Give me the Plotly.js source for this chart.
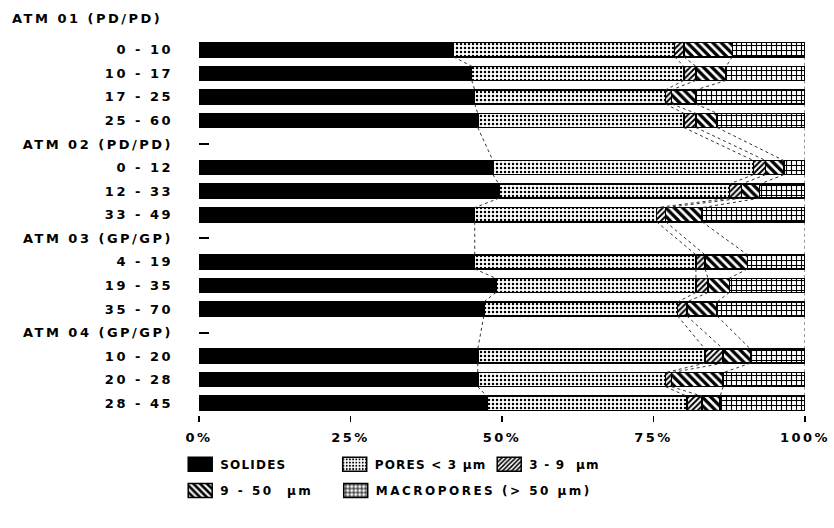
<!DOCTYPE html>
<html>
<head>
<meta charset="utf-8">
<script src="https://cdn.plot.ly/plotly-3.0.1.min.js"></script>
<style>
  html, body { margin: 0; padding: 0; background: #fff; }
  #chart { width: 834px; height: 528px; }
  svg text { letter-spacing: 2.5px; }
  svg text.legendtext { letter-spacing: 1.2px; }
</style>
</head>
<body>
<div id="chart"></div>
<script>
// Horizon rows, top to bottom (profile headers carry no bar)
const rowLabels = ['0 - 10', '10 - 17', '17 - 25', '25 - 60',
  'ATM 02 (PD/PD)', '0 - 12', '12 - 33', '33 - 49',
  'ATM 03 (GP/GP)', '4 - 19', '19 - 35', '35 - 70',
  'ATM 04 (GP/GP)', '10 - 20', '20 - 28', '28 - 45'];

// Volume shares (%) per horizon
const solides    = [42, 45, 45.5, 46, null, 48.5, 49.5, 45.5, null, 45.5, 49, 47, null, 46, 46, 47.5];
const pores3     = [36.5, 35, 31.5, 34, null, 43, 38, 30, null, 36.5, 33, 32, null, 37.5, 31, 33];
const pores3to9  = [1.5, 2, 1, 2, null, 2, 2, 1.5, null, 1.5, 2, 1.5, null, 3, 1, 2.5];
const pores9to50 = [8, 5, 4, 3.5, null, 3, 3, 6, null, 7, 3.5, 5, null, 4.5, 8.5, 3];
const macropores = [12, 13, 18, 14.5, null, 3.5, 7.5, 17, null, 9.5, 12.5, 14.5, null, 9, 13.5, 14];

const xTickVals = [0, 25, 50, 75, 100];
const xTickText = ['0%', '25%', '50%', '75%', '100%'];

const FONT = { family: 'DejaVu Sans, Liberation Sans, sans-serif', size: 13, color: '#000', weight: 'bold' };
const LEGEND_FONT = { family: 'DejaVu Sans, Liberation Sans, sans-serif', size: 12, color: '#000', weight: 'bold' };
const rowPos = rowLabels.map((_, i) => i);
const BAR_HALF = 0.3; // half of bar thickness in row units (bargap 0.4)

const outline = { color: '#000', width: 1.5 };
const series = [
  { name: 'SOLIDES', values: solides, legend: 'legend',
    marker: { color: '#000', line: outline } },
  { name: 'PORES &lt; 3 µm', values: pores3, legend: 'legend',
    marker: { color: '#fff', line: outline,
      pattern: { shape: '.', fgcolor: '#000', bgcolor: '#fff', size: 4, solidity: 0.3 } } },
  { name: '3 - 9  µm', values: pores3to9, legend: 'legend',
    marker: { color: '#fff', line: outline,
      pattern: { shape: '/', fgcolor: '#000', bgcolor: '#fff', size: 4, solidity: 0.5 } } },
  { name: '9 - 50  µm', values: pores9to50, legend: 'legend2',
    marker: { color: '#fff', line: outline,
      pattern: { shape: '\\', fgcolor: '#000', bgcolor: '#fff', size: 6, solidity: 0.55 } } },
  { name: 'MACROPORES (> 50 µm)', values: macropores, legend: 'legend3',
    marker: { color: '#fff', line: outline,
      pattern: { shape: '+', fgcolor: '#000', bgcolor: '#fff', size: 5, solidity: 0.4 } } }
];

const traces = series.map(s => ({
  type: 'bar', orientation: 'h', name: s.name,
  x: s.values, y: rowPos, marker: s.marker, legend: s.legend,
  hoverinfo: 'skip'
}));

// Dotted connectors joining each cumulative boundary from one bar's lower edge
// to the next bar's upper edge.
const dataRows = rowPos.filter(i => solides[i] !== null);
const cumulative = [];
let running = rowPos.map(() => 0);
series.forEach(s => {
  running = running.map((v, i) => v + (s.values[i] || 0));
  cumulative.push(running.slice());
});
cumulative.forEach(cum => {
  const xs = [], ys = [];
  for (let k = 0; k < dataRows.length - 1; k++) {
    const a = dataRows[k], b = dataRows[k + 1];
    xs.push(cum[a], cum[b], null);
    ys.push(a + BAR_HALF, b - BAR_HALF, null);
  }
  traces.push({
    type: 'scatter', mode: 'lines', x: xs, y: ys, showlegend: false,
    hoverinfo: 'skip', line: { color: '#333', width: 1, dash: 'dot' }
  });
});

const legendBase = {
  orientation: 'h', xanchor: 'left', yanchor: 'top', traceorder: 'normal',
  font: LEGEND_FONT, bgcolor: 'rgba(0,0,0,0)'
};
const COL0 = -0.031, COL1 = COL0 + 155.5 / 606;

const layout = {
  width: 834, height: 528,
  paper_bgcolor: '#fff', plot_bgcolor: '#fff',
  font: FONT,
  margin: { l: 199, r: 29, t: 38, b: 113 },
  barmode: 'stack', bargap: 0.4,
  title: { text: 'ATM 01 (PD/PD)', x: 12 / 834, xanchor: 'left', xref: 'container',
           y: 1 - 18 / 528, yanchor: 'middle', yref: 'container', font: FONT },
  xaxis: {
    range: [0, 100], tickvals: xTickVals, ticktext: xTickText,
    ticks: 'outside', ticklen: 6, tickwidth: 1.5, tickcolor: '#000',
    showline: false, showgrid: false, zeroline: false, tickfont: FONT,
    ticklabelstandoff: 4, fixedrange: true
  },
  yaxis: {
    range: [15.5, -0.5], tickvals: rowPos, ticktext: rowLabels,
    ticks: 'inside', ticklen: 10, tickwidth: 2, tickcolor: '#000',
    showline: false, showgrid: false, zeroline: false, tickfont: FONT,
    ticklabelstandoff: 25, fixedrange: true
  },
  legend: Object.assign({}, legendBase, { x: COL0, y: -0.092, entrywidth: 109.5 }),
  legend2: Object.assign({}, legendBase, { x: COL0, y: -0.162 }),
  legend3: Object.assign({}, legendBase, { x: COL1, y: -0.162 }),
  showlegend: true
};

Plotly.newPlot('chart', traces, layout, { staticPlot: true, displayModeBar: false })
  .then(gd => {
    // wider legend swatches
    gd.querySelectorAll('.legendpoints path').forEach(p => {
      p.setAttribute('d', 'M12,7H-12V-7H12Z');
    });
  });
</script>
</body>
</html>
